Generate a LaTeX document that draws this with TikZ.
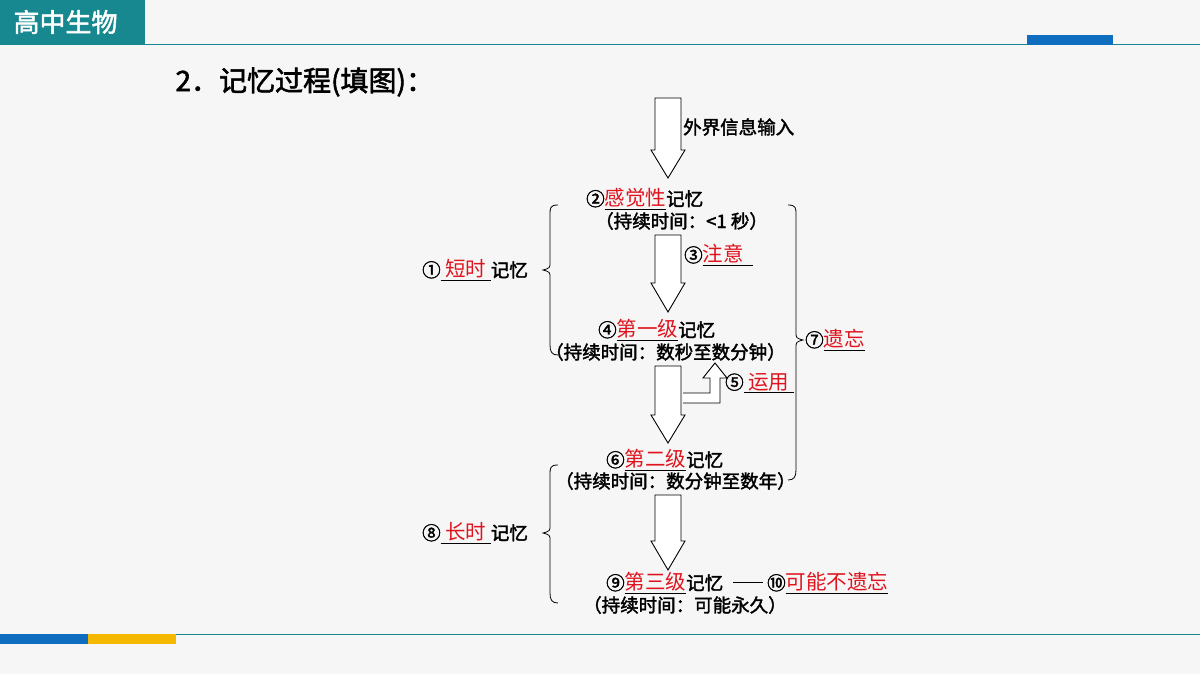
\documentclass[tikz,border=0pt]{standalone}
\usepackage{fontspec}
\setmainfont{Noto Sans CJK SC}
\newfontfamily\cjkbold[FakeBold=2]{Noto Sans CJK SC}
\definecolor{teal1}{HTML}{17888F}
\definecolor{blue1}{HTML}{0F6DBF}
\definecolor{yel1}{HTML}{F5B800}
\definecolor{red1}{HTML}{E0141E}
\tikzset{
 txt/.style={anchor=west,inner sep=0pt,font=\fontsize{18.5}{19}\selectfont\cjkbold},
 barrow/.style={draw=black,fill=white,line width=0.9pt,line join=miter},
 brace/.style={draw=black,line width=0.8pt}
}
\newcommand{\rd}[1]{\underline{\textcolor{red1}{\fontsize{20.5}{21}\selectfont\normalfont #1}}}
\newcommand{\barr}[4]{\draw[barrow] (#1-13,#2)--(#1+13,#2)--(#1+13,#3)--(#1+17,#3)--(#1,#4)--(#1-17,#3)--(#1-13,#3)--cycle;}
\begin{document}
\begin{tikzpicture}[x=1pt,y=-1pt]
\useasboundingbox (0,0) rectangle (1200,674);
\fill[white!93!gray] (0,0) rectangle (1200,674);
% header
\fill[teal1] (0,0) rectangle (145,45);
\node[anchor=west,text=white,font=\fontsize{26}{28}\selectfont\cjkbold] (hdr) at (10,22) {高中生物};
\draw[teal1,line width=1pt] (145,45)--(1200,45);
\fill[blue1] (1027,35) rectangle (1113,45);
% footer
\draw[teal1,line width=1pt] (0,634)--(1200,634);
\fill[blue1] (0,634) rectangle (88,644);
\fill[yel1] (88,634) rectangle (176,644);
% title
\node[anchor=west,font=\fontsize{28}{30}\selectfont\cjkbold] (title) at (172,82) {2．记忆过程(填图)：};
% block arrows
\barr{668}{98}{150}{178}
\barr{668}{235}{283}{312}
\barr{668}{366}{415}{443}
\barr{668}{495}{541}{570}
\draw[barrow] (683,403)--(720,403)--(720,378)--(727,378)--(715,363)--(703,378)--(710,378)--(710,393)--(683,393);
% texts
\node[txt] (in) at (683,127) {外界信息输入};
\node[txt] (s2) at (586,199) {②\rd{感觉性}记忆};
\node[txt] (s2t) at (595,221) {（持续时间：<1 秒）};
\node[txt] (s3) at (684,255) {③\rd{注意\ \ }};
\node[txt] (s4) at (598,330) {④\rd{第一级}记忆};
\node[txt] (s4t) at (545,352) {（持续时间：数秒至数分钟）};
\node[txt] (s5) at (725,383) {⑤\rd{\ 运用\ }};
\node[txt] (s6) at (606,460) {⑥\rd{第二级}记忆};
\node[txt] (s6t) at (555,481) {（持续时间：数分钟至数年）};
\node[txt] (s9) at (606,583) {⑨\rd{第三级}记忆};
\node[txt] (s10) at (767,583) {⑩\rd{可能不遗忘}};
\draw[line width=0.8pt] (733,582)--(763,582);
\node[txt] (s9t) at (583,605) {（持续时间：可能永久）};
\node[txt] (s1) at (422,270) {①\rd{\ 短时\ }记忆};
\node[txt] (s8) at (422,533) {⑧\rd{\ 长时\ }记忆};
\node[txt] (s7) at (805,340) {⑦\rd{遗忘}};
% braces
\draw[brace] (558,205) .. controls (550,205) and (550,208) .. (550,215) -- (550,262) .. controls (550,268) .. (543,270) .. controls (550,272) .. (550,278) -- (550,345) .. controls (550,352) and (552,355) .. (558,355);
\draw[brace] (788,205) .. controls (796,205) and (796,208) .. (796,215) -- (796,332) .. controls (796,338) .. (803,340) .. controls (796,342) .. (796,348) -- (796,470) .. controls (796,477) and (794,480) .. (788,480);
\draw[brace] (558,465) .. controls (550,465) and (550,468) .. (550,475) -- (550,525) .. controls (550,531) .. (543,533) .. controls (550,535) .. (550,541) -- (550,593) .. controls (550,600) and (552,603) .. (558,603);
\end{tikzpicture}
\end{document}
